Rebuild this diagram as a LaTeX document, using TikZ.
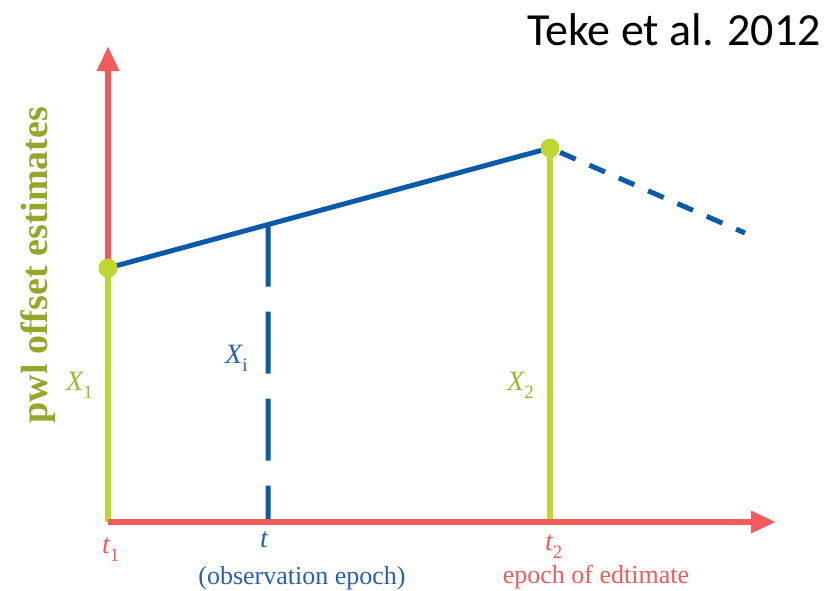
\documentclass[tikz,border=0pt]{standalone}
\usepackage{fontspec}
\setmainfont{Liberation Serif}
\newfontfamily\citefont{Carlito}
\usetikzlibrary{arrows.meta, calc}
\definecolor{axisred}{RGB}{242,90,92}
\definecolor{estgreen}{RGB}{192,214,48}
\definecolor{lblgreen}{RGB}{160,180,45}
\definecolor{olivetext}{RGB}{150,166,42}
\definecolor{lineblue}{RGB}{10,90,170}
\definecolor{labelblue}{RGB}{40,95,175}
\newcommand{\lowsub}[1]{\raisebox{-0.32em}{\fontsize{19}{20}\selectfont\upshape #1}}

\begin{document}
\begin{tikzpicture}[x=1pt, y=-1pt,
    axis/.style={axisred, line width=6pt, -{Triangle[length=25pt, width=21pt]}},
    est/.style={estgreen, line width=6pt},
    offset/.style={lineblue, line width=5pt},
    dot/.style={circle, fill=estgreen, minimum size=19pt, inner sep=0pt},
    lbl/.style={font=\fontsize{28}{30}\selectfont\itshape, inner sep=0pt, anchor=base west},
    caption/.style={font=\fontsize{26}{28}\selectfont, inner sep=0pt, anchor=base}
]
    \useasboundingbox (0,0) rectangle (838,590);

    % Axes and epochs
    \coordinate (o) at (108,522);
    \coordinate (ytip) at (108,46);
    \coordinate (xtip) at (776,522);
    \coordinate (t1) at (108,522);
    \coordinate (ti) at (268,522);
    \coordinate (t2) at (550,522);

    % Offset estimates
    \coordinate (x1) at (108,268);
    \coordinate (x2) at (550,148);
    \coordinate (xi) at ($(x1)!0.362!(x2)$);
    \coordinate (xend) at (745,233);

    \draw[axis] (x1) -- (ytip);
    \draw[est] (t1) -- (x1);
    \draw[est] (t2) -- (x2);
    \draw[offset] (x1) -- (x2);
    \draw[offset, dash pattern=on 17pt off 15pt, dash phase=21pt] (x2) -- (xend);
    \draw[offset, dash pattern=on 62pt off 25pt] (xi) -- (ti);
    \draw[axis] (o) -- (xtip);

    \node[dot] (p1) at (x1) {};
    \node[dot] (p2) at (x2) {};

    % Labels
    \node[lbl, text=lblgreen] (x1lbl) at (66,390) {X\lowsub{1}};
    \node[lbl, text=labelblue] (xilbl) at (225,363) {X\lowsub{i}};
    \node[lbl, text=lblgreen] (x2lbl) at (507,390) {X\lowsub{2}};
    \node[lbl, text=axisred] (t1lbl) at (102,553) {t\lowsub{1}};
    \node[lbl, text=labelblue] (tlbl) at (260,547) {t};
    \node[lbl, text=axisred] (t2lbl) at (545,550) {t\lowsub{2}};
    \node[caption, text=labelblue] (obs) at (302,584) {(observation epoch)};
    \node[caption, text=axisred] (edt) at (596,583) {epoch of edtimate};
    \node[rotate=90, anchor=base, inner sep=0pt, text=olivetext,
          font=\bfseries\fontsize{38}{40}\selectfont] (ylbl) at (47,265) {pwl offset estimates};
    \node[anchor=base east, inner sep=0pt,
          font=\citefont\fontsize{46}{50}\selectfont] (cite) at (821,45) {Teke et al. 2012};
\end{tikzpicture}
\end{document}
